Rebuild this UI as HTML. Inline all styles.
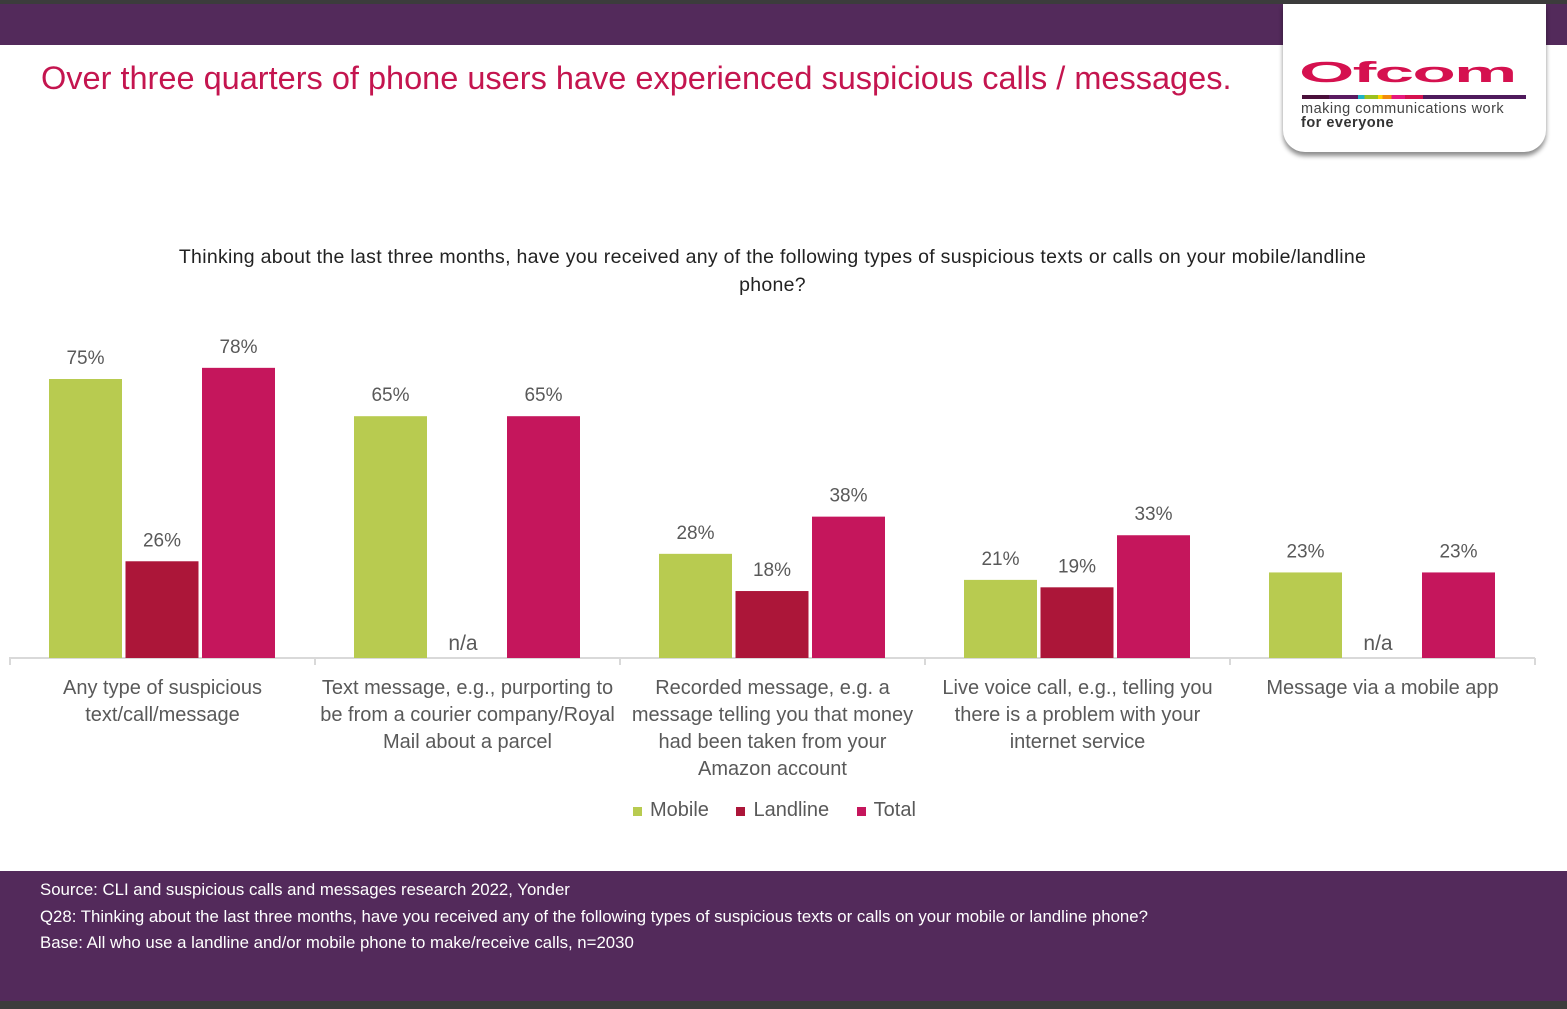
<!DOCTYPE html>
<html><head><meta charset="utf-8"><style>
body{margin:0;width:1567px;height:1009px;position:relative;background:#fff;font-family:"Liberation Sans",sans-serif;overflow:hidden}
.abs{position:absolute}
</style></head><body>
<div class="abs" style="left:0;top:0;width:1567px;height:4px;background:#3c3c3c"></div>
<div class="abs" style="left:0;top:4px;width:1567px;height:41px;background:#532a5b"></div>
<div class="abs" style="left:41px;top:60px;font-size:32.5px;color:#c4154f;white-space:nowrap">Over three quarters of phone users have experienced suspicious calls / messages.</div>
<div class="abs" style="left:1283px;top:4px;width:263px;height:148px;background:#fff;border-radius:0 0 22px 22px;box-shadow:0 4px 5px rgba(0,0,0,.45)">
 <div class="abs" style="left:16px;top:54px;font-size:40px;font-weight:bold;color:#d5114f;letter-spacing:-1px;line-height:40px;transform:scaleX(1.78) scaleY(0.72);transform-origin:left top">Ofcom</div>
 <div class="abs" style="left:19px;top:91px;width:224px;height:4px;background:linear-gradient(90deg,#4a0f3a 0 12%,#5a1a60 12% 25%,#1eb3c4 25% 28%,#9bc11f 28% 34%,#ffd400 34% 36%,#f28b0c 36% 40%,#e5187d 40% 46%,#d5114f 46% 54%,#4f1a5c 54%)"></div>
 <div class="abs" style="left:18px;top:98px;font-size:14.5px;color:#444;line-height:14px;white-space:nowrap;letter-spacing:0.5px">making communications work<br><b style="color:#333">for everyone</b></div>
</div>
<div class="abs" style="left:100px;top:243px;width:1345px;text-align:center;font-size:19.5px;line-height:28px;color:#222;letter-spacing:0.3px">Thinking about the last three months, have you received any of the following types of suspicious texts or calls on your mobile/landline<br>phone?</div>
<svg class="abs" style="left:0;top:0" width="1567" height="870" id="chart"></svg>
<div class="abs" style="left:633px;top:799px;font-size:20px;color:#595959;white-space:nowrap">
<span><span style="display:inline-block;width:9px;height:9px;background:#b8cb50;margin-right:8px"></span>Mobile</span>
<span style="margin-left:22px"><span style="display:inline-block;width:9px;height:9px;background:#ac1639;margin-right:8px"></span>Landline</span>
<span style="margin-left:22px"><span style="display:inline-block;width:9px;height:9px;background:#c5165c;margin-right:8px"></span>Total</span>
</div>
<div class="abs" style="left:0;top:871px;width:1567px;height:130px;background:#532a5b;color:#fff;font-size:16.8px;line-height:26.5px">
<div style="position:absolute;left:40px;top:6px;white-space:nowrap">Source: CLI and suspicious calls and messages research 2022, Yonder<br>Q28: Thinking about the last three months, have you received any of the following types of suspicious texts or calls on your mobile or landline phone?<br>Base: All who use a landline and/or mobile phone to make/receive calls, n=2030</div>
</div>
<div class="abs" style="left:0;top:1001px;width:1567px;height:8px;background:#3c3c3c"></div>
<script>
const categories=[["Any type of suspicious","text/call/message"],["Text message, e.g., purporting to","be from a courier company/Royal","Mail about a parcel"],["Recorded message, e.g. a","message telling you that money","had been taken from your","Amazon account"],["Live voice call, e.g., telling you","there is a problem with your","internet service"],["Message via a mobile app"]];
const mobile=[75,65,28,21,23];
const landline=[26,null,18,19,null];
const total=[78,65,38,33,23];
const svg=document.getElementById('chart');
const NS='http://www.w3.org/2000/svg';
const x0=10,gw=305,base=658,k=3.72,bw=73;
const y=v=>base-v*k;
function mk(t,a){const e=document.createElementNS(NS,t);for(const n in a)e.setAttribute(n,a[n]);svg.appendChild(e);return e;}
const ax=mk('path',{d:`M${x0} ${base+7}V${base}H${x0+gw*5}`+[1,2,3,4,5].map(i=>`M${x0+gw*i} ${base}v7`).join(''),stroke:'#d9d9d9','stroke-width':2,fill:'none'});


const series=[[mobile,'#b8cb50','mobile'],[landline,'#ac1639','landline'],[total,'#c5165c','total']];
categories.forEach((c,i)=>{
 series.forEach(([d,col,nm],j)=>{
  const bx=x0+gw*i+39+j*76.5, v=d[i];
  if(v==null){const t=mk('text',{x:bx+bw/2-4,y:base-8,'text-anchor':'middle','font-size':21,fill:'#595959'});t.textContent='n/a';
   
   return;}
  const r=mk('rect',{x:bx,y:y(v),width:bw,height:base-y(v),fill:col});
  
  
  const t=mk('text',{x:bx+bw/2,y:y(v)-15,'text-anchor':'middle','font-size':19,fill:'#595959'});t.textContent=v+'%';
  
  
 });
 c.forEach((ln,l)=>{const t=mk('text',{x:x0+gw*i+gw/2,y:694+l*27,'text-anchor':'middle','font-size':20,fill:'#595959'});t.textContent=ln;
  
  });
});
</script>
</body></html>
